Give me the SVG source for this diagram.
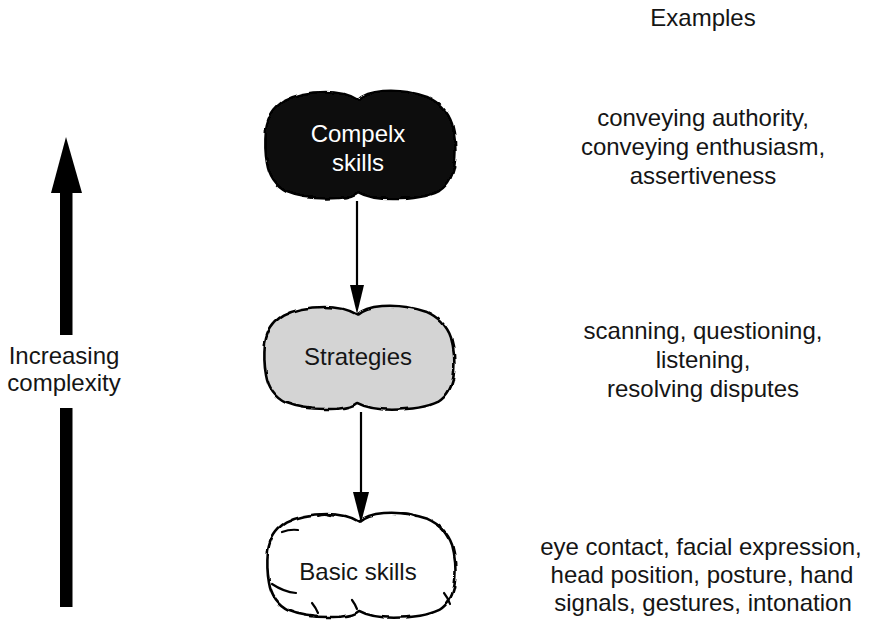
<svg xmlns="http://www.w3.org/2000/svg" width="869" height="621" viewBox="0 0 869 621">
<style>
  .t { font-family: "Liberation Sans", Arial, sans-serif; font-size: 24px; fill: #151515; text-anchor: middle; }
  .w { fill: #ffffff; }
  .cloud { stroke: #000; stroke-width: 2.6; stroke-linejoin: round; filter: url(#rough); }
  .tick { fill: none; stroke: #000; stroke-width: 2.2; stroke-linecap: round; }
  .conn { stroke: #000; stroke-width: 2.2; fill: none; }
</style>
<defs>
  <filter id="rough" x="-5%" y="-5%" width="110%" height="110%">
    <feTurbulence type="fractalNoise" baseFrequency="0.06" numOctaves="2" seed="3" result="n"/>
    <feDisplacementMap in="SourceGraphic" in2="n" scale="4" xChannelSelector="R" yChannelSelector="G"/>
  </filter>
  <path id="cloudShape" d="M 93,10 C 86,5 75,2 60,2 C 44,2 30,5 19,11 C 9,17 3,27 1,40 C 0,51 0,62 2,73 C 4,86 10,96 22,102 C 36,108 56,109 74,108 C 84,107 90,105 93,102 C 100,106 112,109 128,109 C 146,109 162,107 174,101 C 185,94 189,83 190,70 C 191,58 190,45 187,34 C 183,22 175,13 162,7 C 148,2 132,0 118,1 C 106,2 98,5 93,10 Z"/>
</defs>
<rect width="869" height="621" fill="#ffffff"/>

<g id="complexity-arrow">
  <polygon points="66,137 82,193 51,193" fill="#000"/>
  <rect x="60" y="192" width="12.5" height="143" fill="#000"/>
  <rect x="60" y="408" width="12.5" height="199" fill="#000"/>
  <text class="t" x="64" y="364">Increasing</text>
  <text class="t" x="64" y="391">complexity</text>
</g>

<g id="complex-skills">
  <use href="#cloudShape" class="cloud" fill="#111111" transform="translate(265,90)"/>
  <text class="t w" x="358" y="142">Compelx</text>
  <text class="t w" x="358" y="171">skills</text>
</g>

<g id="strategies">
  <use href="#cloudShape" class="cloud" fill="#d4d4d4" transform="translate(264,305) scale(1,0.96)"/>
  <text class="t" x="358" y="365">Strategies</text>
</g>

<g id="basic-skills">
  <use href="#cloudShape" class="cloud" fill="#ffffff" transform="translate(267,512) scale(0.99,0.97)"/>
  <path class="tick" d="M 282,532 Q 290,529 298,530 M 272,584 Q 284,592 296,593 M 312,603 Q 316,608 318,613 M 352,600 Q 355,604 357,609 M 437,525 Q 444,530 448,538 M 444,593 Q 448,598 450,604 M 318,516 Q 325,514 330,516 M 402,513 Q 410,513 416,516"/>
  <text class="t" x="358" y="580">Basic skills</text>
</g>

<g id="connectors">
  <line class="conn" x1="357" y1="201" x2="357" y2="288"/>
  <polygon points="350,285 364,285 357,314" fill="#000"/>
  <line class="conn" x1="361" y1="412" x2="361" y2="494"/>
  <polygon points="353,492 369,492 361,523" fill="#000"/>
</g>

<g id="examples">
  <text class="t" x="703" y="26">Examples</text>
  <text class="t" x="703" y="126">conveying authority,</text>
  <text class="t" x="703" y="155">conveying enthusiasm,</text>
  <text class="t" x="703" y="184">assertiveness</text>
  <text class="t" x="703" y="339">scanning, questioning,</text>
  <text class="t" x="703" y="368">listening,</text>
  <text class="t" x="703" y="397">resolving disputes</text>
  <text class="t" x="701" y="555">eye contact, facial expression,</text>
  <text class="t" x="702" y="583">head position, posture, hand</text>
  <text class="t" x="703" y="611">signals, gestures, intonation</text>
</g>
</svg>
